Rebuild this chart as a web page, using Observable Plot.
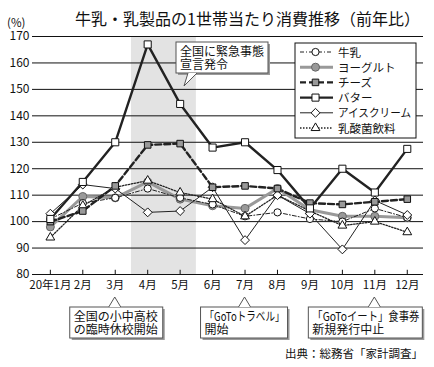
<!DOCTYPE html>
<html><head><meta charset="utf-8">
<script src="https://cdn.jsdelivr.net/npm/d3@7"></script>
<script src="https://cdn.jsdelivr.net/npm/@observablehq/plot@0.6"></script>
<style>
body{margin:0;background:#fff;}
#chart{width:434px;height:367px;}
svg{font-family:"Noto Sans CJK JP","Noto Sans",sans-serif;}
</style></head>
<body><div id="chart"></div>
<script>
const months = [1,2,3,4,5,6,7,8,9,10,11,12];
const monthLabels = ["20年1月","2月","3月","4月","5月","6月","7月","8月","9月","10月","11月","12月"];
const yTicks = [80,90,100,110,120,130,140,150,160,170];
const emergencyMonths = [4,5];

const seriesNames = ["牛乳","ヨーグルト","チーズ","バター","アイスクリーム","乳酸菌飲料"];
const milk   = [101, 107, 109, 112.5, 109, 106.5, 102, 103.5, 101, 100, 105, 101.5];
const yogurt = [98, 109.5, 109, 115, 108.5, 106, 105, 112.5, 104.5, 102, 102, 101.5];
const cheese = [100, 104, 113.5, 129, 129.5, 113, 113.5, 112.5, 107, 106.5, 107.5, 108.5];
const butter = [101, 115, 130, 167, 144.5, 128, 130, 119.5, 105, 120, 111, 127.5];
const icecream = [103, 114, 112.5, 103.5, 104, 113, 93, 110, 103, 89.5, 108, 102.5];
const lactic = [94, 106, 113, 115.5, 111, 108.5, 102, 110, 104, 98.5, 100, 96];

const styles = {
  "牛乳":        {values: milk,   stroke:"#222", sw:1,   dash:"4,2,1,2", symbol:"circle",   fill:"#fff", r:3.6},
  "ヨーグルト":  {values: yogurt, stroke:"#999", sw:3,   dash:null,      symbol:"circle",   fill:"#999", r:4, mstroke:"#666"},
  "チーズ":      {values: cheese, stroke:"#222", sw:2.4, dash:"6,3",     symbol:"square",   fill:"#999", r:3.7},
  "バター":      {values: butter, stroke:"#222", sw:2.4, dash:null,      symbol:"square",   fill:"#fff", r:4},
  "アイスクリーム":{values: icecream, stroke:"#222", sw:1, dash:null,    symbol:"diamond2", fill:"#fff", r:4},
  "乳酸菌飲料":  {values: lactic, stroke:"#222", sw:1.3, dash:"1.5,1.5", symbol:"triangle2",fill:"#fff", r:4.2}
};
const drawOrder = ["ヨーグルト","牛乳","乳酸菌飲料","アイスクリーム","チーズ","バター"];

const seriesMarks = [];
for (const name of drawOrder) {
  const s = styles[name];
  const data = months.map((m,i)=>({m, v:s.values[i]}));
  seriesMarks.push(Plot.line(data,{x:"m",y:"v",stroke:s.stroke,strokeWidth:s.sw,strokeDasharray:s.dash||undefined,strokeLinejoin:"miter"}));
}
for (const name of drawOrder) {
  const s = styles[name];
  const data = months.map((m,i)=>({m, v:s.values[i]}));
  seriesMarks.push(Plot.dot(data,{x:"m",y:"v",symbol:()=>s.symbol,r:s.r,fill:s.fill,stroke:s.mstroke||"#111",strokeWidth:1}));
}

const plot = Plot.plot({
  width:434, height:367,
  marginLeft:32, marginRight:11, marginTop:36, marginBottom:93,
  style:{fontFamily:'"Noto Sans CJK JP",sans-serif', background:"#fff"},
  x:{domain:[0.45,12.5], axis:null},
  y:{domain:[80,170], axis:null},
  symbol:{type:"identity"},
  marks:[
    Plot.rect([emergencyMonths],{x1:d=>d3.min(d)-0.5,x2:d=>d3.max(d)+0.5,y1:80,y2:170,fill:"#e3e3e3"}),
    Plot.ruleY(yTicks,{stroke:"#111",strokeWidth:1}),
    Plot.ruleX(months,{x:d=>d,y1:80,y2:81.6,stroke:"#111",strokeWidth:1}),
    Plot.axisY({ticks:yTicks,tickSize:0,tickPadding:3,fontSize:12,fill:"#111",label:null}),
    Plot.axisX({ticks:months,tickSize:0,tickPadding:6,fontSize:11.5,fill:"#111",label:null,tickFormat:d=>monthLabels[d-1]}),
    ...seriesMarks
  ]
});
document.getElementById("chart").appendChild(plot);

const svg = d3.select(plot);
const sx = plot.scale("x");
const X = v=>sx.apply(v);
const ann = svg.append("g").attr("text-anchor","start");

function fit(sel, max){
  const n = sel.node();
  if (n.getComputedTextLength() > max) sel.attr("textLength",max).attr("lengthAdjust","spacingAndGlyphs");
  return sel;
}

// title
ann.append("text").attr("x",247.5).attr("y",25).attr("text-anchor","middle")
  .attr("font-size",16).attr("fill","#111").text("牛乳・乳製品の1世帯当たり消費推移（前年比）");
ann.append("text").attr("x",7).attr("y",27).attr("font-size",11.5).attr("fill","#111").text("(%)");

// callout helper
function callout(x,y,w,h,lines,tip,base){
  const g = ann.append("g");
  g.append("rect").attr("x",x+2).attr("y",y+2).attr("width",w).attr("height",h).attr("fill","#9a9a9a");
  g.append("rect").attr("x",x).attr("y",y).attr("width",w).attr("height",h).attr("fill","#fff").attr("stroke","#555").attr("stroke-width",1);
  g.append("path").attr("d",`M${base[0]},${base[2]} L${tip[0]},${tip[1]} L${base[1]},${base[2]} Z`).attr("fill","#fff").attr("stroke","none");
  g.append("path").attr("d",`M${base[0]},${base[2]} L${tip[0]},${tip[1]} L${base[1]},${base[2]}`).attr("fill","none").attr("stroke","#555").attr("stroke-width",1);
  lines.forEach((t,i)=>fit(g.append("text").attr("x",x+4).attr("y",y+13.5+i*13.5).attr("font-size",12).attr("fill","#111").text(t), w-7));
}
// top callout
callout(176,42,92,31,["全国に緊急事態","宣言発令"],[184,86],[188,197,73]);
// bottom callouts
const tipY = 297, boxY = 307;
callout(X(3)-45,boxY,93,31,["全国の小中高校","の臨時休校開始"],[X(3),tipY],[X(3)-6,X(3)+6,boxY]);
callout(X(7)-44,boxY,87,31,["「GoToトラベル」","開始"],[X(7),tipY],[X(7)-6,X(7)+6,boxY]);
callout(X(11)-66,boxY,114,31,["「GoToイート」食事券","新規発行中止"],[X(11),tipY],[X(11)-6,X(11)+6,boxY]);

// caption
ann.append("text").attr("x",423).attr("y",358).attr("text-anchor","end").attr("font-size",11.5).attr("fill","#111").text("出典：総務省「家計調査」");

// legend
const lg = ann.append("g");
lg.append("rect").attr("x",295).attr("y",43).attr("width",121).attr("height",95).attr("fill","#fff").attr("stroke","#111").attr("stroke-width",1);
const symMap = {circle:d3.symbolCircle,square:d3.symbolSquare,diamond2:d3.symbolDiamond2,triangle2:d3.symbolTriangle2};
seriesNames.forEach((name,i)=>{
  const s = styles[name];
  const yy = 52 + i*15.2;
  lg.append("line").attr("x1",300).attr("x2",333).attr("y1",yy).attr("y2",yy)
    .attr("stroke",s.stroke).attr("stroke-width",s.sw).attr("stroke-dasharray",s.dash||null);
  lg.append("path").attr("transform",`translate(315.5,${yy})`)
    .attr("d",d3.symbol(symMap[s.symbol], Math.PI*s.r*s.r)())
    .attr("fill",s.fill).attr("stroke",s.mstroke||"#111").attr("stroke-width",1);
  fit(lg.append("text").attr("x",338).attr("y",yy+4.5).attr("font-size",11.5).attr("fill","#111").text(name), 73);
});
</script></body></html>
